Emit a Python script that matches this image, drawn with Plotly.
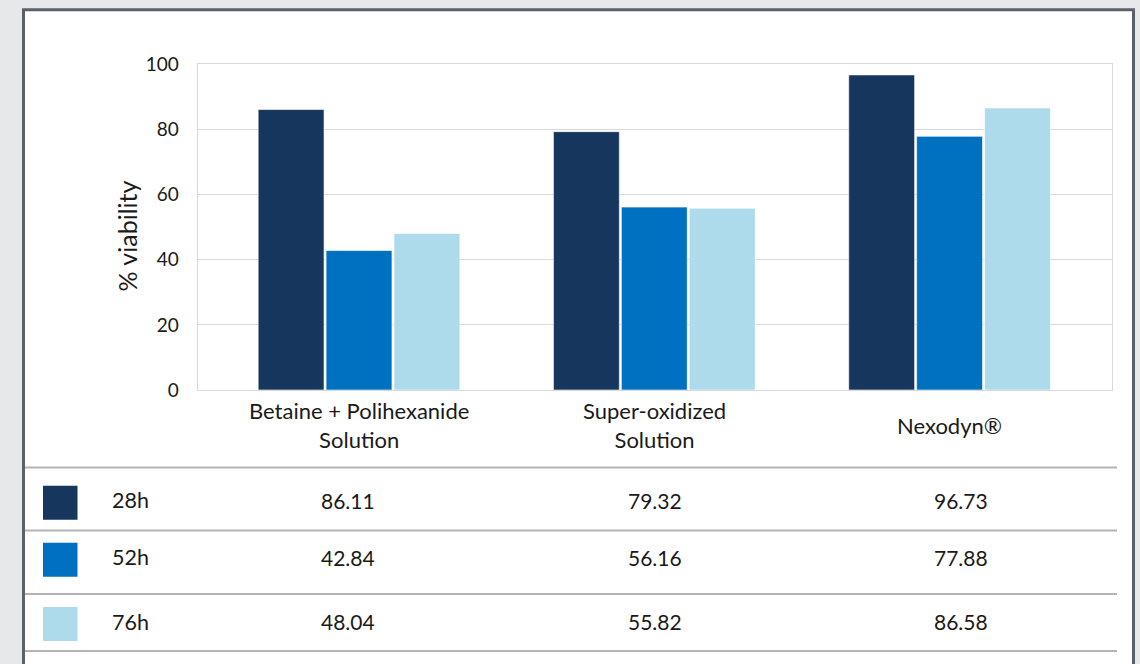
import plotly.graph_objects as go

categories = ["Betaine + Polihexanide<br>Solution", "Super-oxidized<br>Solution", "Nexodyn®"]
series_names = ["28h", "52h", "76h"]
values_28h = [86.11, 79.32, 96.73]
values_52h = [42.84, 56.16, 77.88]
values_76h = [48.04, 55.82, 86.58]
y_ticks = [0, 20, 40, 60, 80, 100]

colors = ["#17365d", "#0070c0", "#addbeb"]
W, H = 1140, 664
FONT = "Lato, 'Open Sans', sans-serif"
TXT = "#1a1a1a"

def px(x):
    return x / W

def py(y):
    return 1 - y / H

cat_ids = [0, 1, 2]
series = [values_28h, values_52h, values_76h]

fig = go.Figure()
for name, vals, col in zip(series_names, series, colors):
    fig.add_trace(go.Bar(
        x=cat_ids, y=vals, name=name,
        marker=dict(color=col, line=dict(color="rgba(255,255,255,0.6)", width=1)),
        showlegend=False, hoverinfo="y",
    ))

shapes = []
# outer panel
shapes.append(dict(type="rect", xref="paper", yref="paper",
                   x0=px(23.5), x1=px(1133.5), y0=-0.2, y1=py(9.7),
                   fillcolor="white", line=dict(color="#5b616b", width=3), layer="below"))
# table lines
for yl in [467.5, 530.5, 594, 651]:
    shapes.append(dict(type="line", xref="paper", yref="paper",
                       x0=px(25), x1=px(1117), y0=py(yl), y1=py(yl),
                       line=dict(color="#b4b4b4", width=2)))
# legend squares
row_centers = [502.7, 559.8, 624]
for yc, col in zip(row_centers, colors):
    shapes.append(dict(type="rect", xref="paper", yref="paper",
                       x0=px(43), x1=px(77.5), y0=py(yc + 17), y1=py(yc - 17),
                       fillcolor=col, line=dict(width=0)))

annotations = []
# x category labels
for i, c in enumerate(categories):
    annotations.append(dict(x=cat_ids[i], xref="x", y=py(425), yref="paper",
                            text=c, showarrow=False, xanchor="center", yanchor="middle",
                            font=dict(family=FONT, size=22, color=TXT), align="center"))
# y title
annotations.append(dict(x=px(126), xref="paper", y=py(236.5), yref="paper",
                        text="% viability", textangle=-90, showarrow=False,
                        xanchor="center", yanchor="middle",
                        font=dict(family=FONT, size=25, color=TXT)))
# table
for r, (name, vals, yc) in enumerate(zip(series_names, series, row_centers)):
    annotations.append(dict(x=px(110), xref="paper", y=py(yc - 2.5), yref="paper",
                            text=name, showarrow=False, xanchor="left", yanchor="middle",
                            font=dict(family=FONT, size=21.5, color=TXT)))
    for i, v in enumerate(vals):
        annotations.append(dict(x=cat_ids[i], xref="x2", y=py(yc - 2.5), yref="paper",
                                text=f"{v:.2f}", showarrow=False, xanchor="center",
                                yanchor="middle",
                                font=dict(family=FONT, size=21, color=TXT)))

xdom = [px(197.5), px(1111.7)]
fig.update_layout(
    width=W, height=H, autosize=False,
    margin=dict(l=0, r=0, t=0, b=0, pad=0, autoexpand=False),
    paper_bgcolor="#e7e8ea",
    plot_bgcolor="white",
    barmode="group",
    bargap=0.31,
    bargroupgap=0.03,
    shapes=shapes,
    annotations=annotations,
    xaxis=dict(domain=xdom, type="linear", range=[-0.547, 2.549],
               showticklabels=False, showgrid=False, zeroline=False,
               showline=True, mirror=True, linecolor="#d9d9d9", linewidth=1,
               ticks=""),
    xaxis2=dict(domain=xdom, overlaying="x", type="linear", range=[-0.49, 2.49],
                visible=False),
    yaxis=dict(domain=[py(390), py(64.3)], range=[0, 100], tickvals=y_ticks,
               showgrid=True, gridcolor="#d9d9d9", gridwidth=1, zeroline=False,
               showline=True, mirror=True, linecolor="#d9d9d9", linewidth=1,
               ticks="", ticklabelstandoff=14,
               tickfont=dict(family=FONT, size=19, color=TXT)),
)
# dummy trace to activate xaxis2
fig.add_trace(go.Scatter(x=[0], y=[0], xaxis="x2", yaxis="y", mode="markers",
                         marker=dict(opacity=0), showlegend=False, hoverinfo="skip"))

fig.write_html("out.html")
